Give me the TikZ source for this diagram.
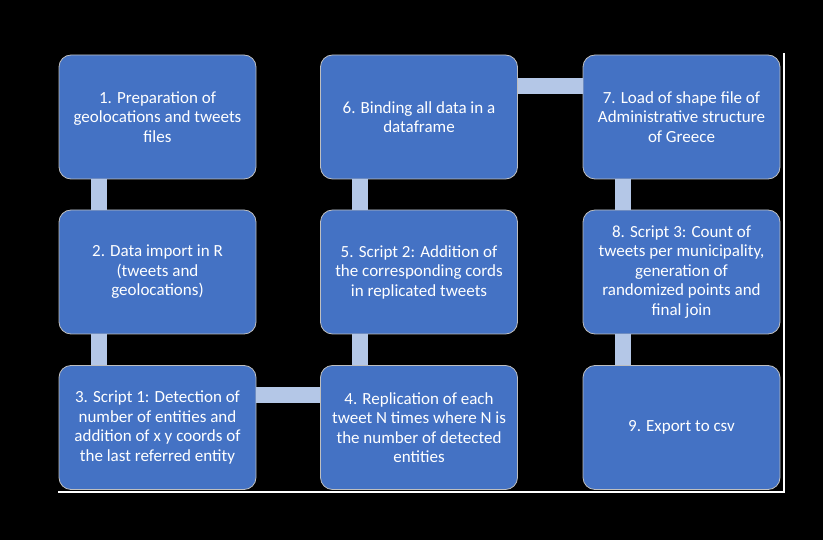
\documentclass[tikz,border=0pt]{standalone}
\usepackage{fontspec}
\setmainfont{Carlito}
\usepackage{tikz}
\definecolor{boxblue}{HTML}{4472C4}
\definecolor{barblue}{HTML}{B4C7E7}
\tikzset{
	stepbox/.style={draw=white!75!black, line width=0.8pt, fill=boxblue, rounded corners=12pt,
		minimum width=197pt, minimum height=124pt, inner sep=2pt, align=center, text=white,
		font=\fontsize{17}{19.5}\selectfont},
	link/.style={draw=barblue, line width=16pt}
}

\begin{document}
\begin{tikzpicture}[x=1pt, y=-1pt]
				%%%%% START %%%%%
				
				\fill[black] (0, 0) rectangle (823, 540);
				\draw[white, line width=1.2pt] (58, 492) -| (784, 53);
				
				\node[stepbox] (s1) at (157.5, 117) {1. Preparation of\\geolocations and tweets\\files};
				\node[stepbox] (s2) at (157.5, 272) {2. Data import in R\\(tweets and\\geolocations)};
				\node[stepbox] (s3) at (157.5, 427.5) {3. Script 1: Detection of\\number of entities and\\addition of x y coords of\\the last referred entity};
				
				\node[stepbox] (s4) at (419, 427.5) {4. Replication of each\\tweet N times where N is\\the number of detected\\entities};
				\node[stepbox] (s5) at (419, 272) {5. Script 2: Addition of\\the corresponding cords\\in replicated tweets};
				\node[stepbox] (s6) at (419, 117) {6. Binding all data in a\\dataframe};
				
				\node[stepbox] (s7) at (681.5, 117) {7. Load of shape file of\\Administrative structure\\of Greece};
				\node[stepbox] (s8) at (681.5, 272) {8. Script 3: Count of\\tweets per municipality,\\generation of\\randomized points and\\final join};
				\node[stepbox] (s9) at (681.5, 427.5) {9. Export to csv};
				
				% bars between the boxes
				\draw[link] ([xshift=40pt]s1.south west) -- ([xshift=40pt]s2.north west);
				\draw[link] ([xshift=40pt]s2.south west) -- ([xshift=40pt]s3.north west);
				\draw[link] ([yshift=-29.5pt]s3.north east) -- ([yshift=-29.5pt]s4.north west);
				\draw[link] ([xshift=40pt]s4.north west) -- ([xshift=40pt]s5.south west);
				\draw[link] ([xshift=40pt]s5.north west) -- ([xshift=40pt]s6.south west);
				\draw[link] ([yshift=-31.5pt]s6.north east) -- ([yshift=-31.5pt]s7.north west);
				\draw[link] ([xshift=40pt]s7.south west) -- ([xshift=40pt]s8.north west);
				\draw[link] ([xshift=40pt]s8.south west) -- ([xshift=40pt]s9.north west);
				%%%%% END %%%%%
\end{tikzpicture}
\end{document}
